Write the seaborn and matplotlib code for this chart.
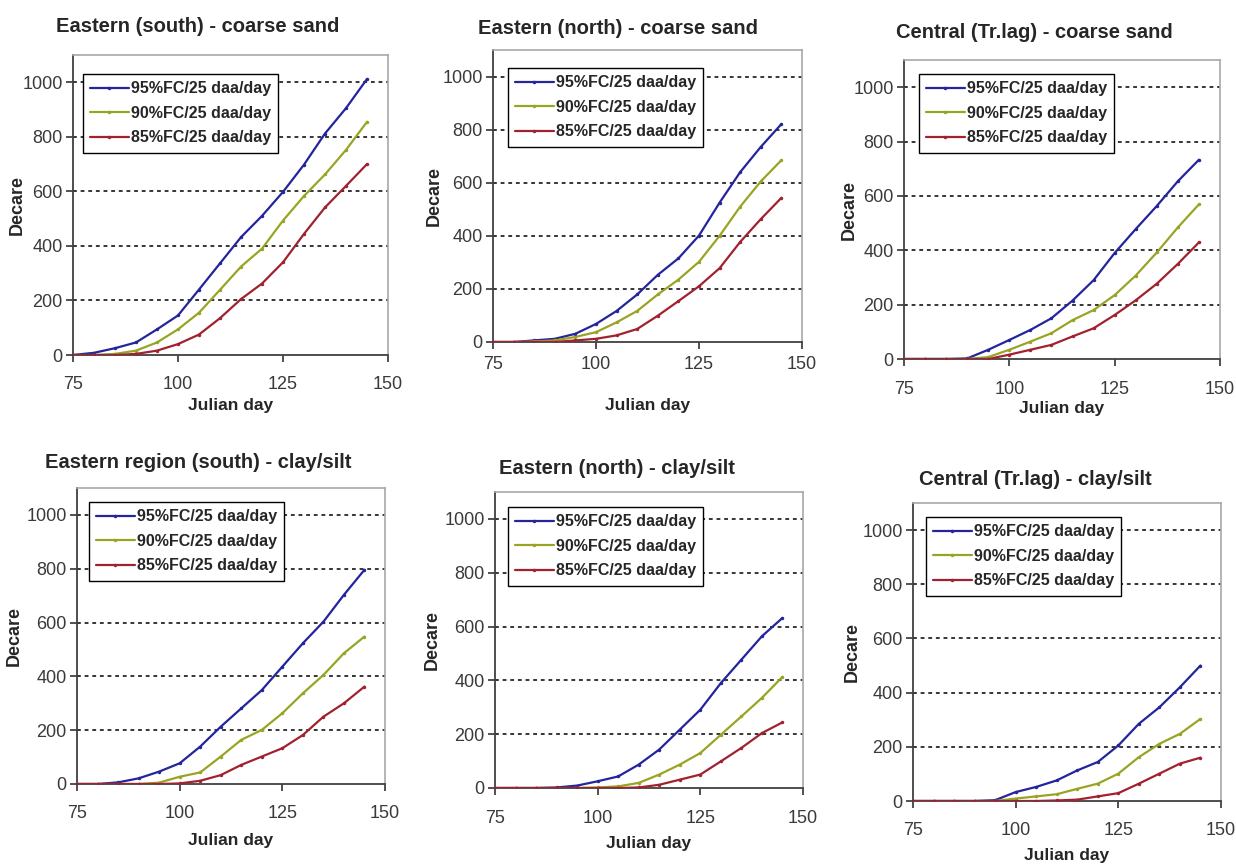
import numpy as np
import pandas as pd
import matplotlib
matplotlib.use("Agg")
import matplotlib.pyplot as plt
import seaborn as sns

# --------------------------
# DATA (every 5 Julian days)
# --------------------------
days = [75, 80, 85, 90, 95, 100, 105, 110, 115, 120, 125, 130, 135, 140, 145]
series_names = ["95%FC/25 daa/day", "90%FC/25 daa/day", "85%FC/25 daa/day"]

titles = [
    "Eastern (south) - coarse sand",
    "Eastern (north) - coarse sand",
    "Central (Tr.lag) - coarse sand",
    "Eastern region (south) - clay/silt",
    "Eastern (north) - clay/silt",
    "Central (Tr.lag) - clay/silt",
]

# Eastern (south) - coarse sand
es_sand_95 = [0, 8, 25, 46, 94, 145, 240, 336, 432, 510, 598, 698, 812, 905, 1012]
es_sand_90 = [0, 0, 4, 16, 46, 94, 155, 239, 324, 390, 493, 583, 662, 752, 855]
es_sand_85 = [0, 0, 0, 4, 16, 40, 75, 135, 205, 262, 340, 444, 541, 620, 700]

# Eastern (north) - coarse sand
en_sand_95 = [0, 0, 6, 12, 31, 68, 117, 179, 253, 315, 401, 525, 640, 735, 821]
en_sand_90 = [0, 0, 2, 6, 19, 37, 74, 117, 179, 235, 302, 400, 510, 605, 685]
en_sand_85 = [0, 0, 0, 0, 6, 12, 25, 49, 99, 154, 210, 278, 377, 463, 543]

# Central (Tr.lag) - coarse sand
ce_sand_95 = [0, 0, 0, 2, 34, 70, 107, 150, 215, 290, 390, 478, 563, 654, 733]
ce_sand_90 = [0, 0, 0, 0, 7, 34, 64, 95, 143, 180, 235, 307, 392, 484, 569]
ce_sand_85 = [0, 0, 0, 0, 0, 16, 34, 52, 83, 113, 162, 216, 277, 350, 429]

# Eastern region (south) - clay/silt
es_clay_95 = [0, 0, 6, 21, 46, 77, 139, 213, 281, 349, 436, 523, 603, 703, 796]
es_clay_90 = [0, 0, 0, 0, 5, 27, 43, 102, 164, 201, 263, 337, 405, 486, 548]
es_clay_85 = [0, 0, 0, 0, 0, 2, 12, 33, 71, 102, 133, 182, 250, 300, 362]

# Eastern (north) - clay/silt
en_clay_95 = [0, 0, 0, 2, 9, 25, 43, 87, 143, 217, 291, 390, 477, 564, 632]
en_clay_90 = [0, 0, 0, 0, 0, 2, 6, 19, 50, 87, 130, 198, 266, 335, 413]
en_clay_85 = [0, 0, 0, 0, 0, 0, 0, 2, 12, 31, 50, 99, 149, 204, 244]

# Central (Tr.lag) - clay/silt
ce_clay_95 = [0, 0, 0, 0, 3, 33, 52, 76, 113, 144, 205, 285, 346, 420, 500]
ce_clay_90 = [0, 0, 0, 0, 0, 9, 17, 25, 45, 64, 101, 162, 211, 248, 303]
ce_clay_85 = [0, 0, 0, 0, 0, 0, 0, 2, 5, 17, 29, 64, 101, 138, 160]

panels = [
    (es_sand_95, es_sand_90, es_sand_85),
    (en_sand_95, en_sand_90, en_sand_85),
    (ce_sand_95, ce_sand_90, ce_sand_85),
    (es_clay_95, es_clay_90, es_clay_85),
    (en_clay_95, en_clay_90, en_clay_85),
    (ce_clay_95, ce_clay_90, ce_clay_85),
]

colors = {
    "95%FC/25 daa/day": "#24249C",
    "90%FC/25 daa/day": "#9AA424",
    "85%FC/25 daa/day": "#A1222F",
}

# --------------------------
# LAYOUT (pixels on a 1236x866 canvas)
# --------------------------
W, H = 1236, 866
boxes = [            # left, top, right, bottom of each plot area
    (73, 55, 388, 355),
    (493, 50, 802, 342),
    (904, 60, 1220, 359),
    (77, 488, 385, 784),
    (495, 492, 803, 788),
    (913, 503, 1221, 801),
]
title_pos = [(198, 27), (618, 28), (1034, 33), (198, 463), (617, 468), (1035, 480)]
legend_pos = [(83, 74), (508, 68), (919, 74), (89, 502), (508, 507), (926, 517)]
xlabel_top = [398, 398, 401, 833, 836, 848]   # top edge of "Julian day"
ylabel_right = [26, 443, 858, 23, 441, 861]   # right edge of rotated "Decare"
xtick_pad = [10, 5, 10.5, 10, 10.5, 10]

# --------------------------
# PLOTTING
# --------------------------
sns.set_style("ticks")
plt.rcParams["font.family"] = ["Liberation Sans", "DejaVu Sans"]

fig = plt.figure(figsize=(W / 100, H / 100), dpi=100)
fig.patch.set_facecolor("white")

for i, ((l, t, r, b), title, vals) in enumerate(zip(boxes, titles, panels)):
    w, h = r - l, b - t
    ax = fig.add_axes([l / W, 1 - b / H, w / W, h / H])

    df = pd.DataFrame({
        "day": days * 3,
        "decare": list(vals[0]) + list(vals[1]) + list(vals[2]),
        "series": [s for s in series_names for _ in days],
    })
    sns.lineplot(
        data=df, x="day", y="decare", hue="series", hue_order=series_names,
        palette=colors, marker=".", markersize=5, markeredgewidth=0,
        linewidth=1.6, ax=ax, zorder=3,
    )

    ax.set_xlim(75, 150)
    ax.set_ylim(0, 1100)
    ax.set_xticks([75, 100, 125, 150])
    ax.set_yticks([0, 200, 400, 600, 800, 1000])
    for yv in [200, 400, 600, 800, 1000]:
        ax.axhline(yv, color="black", linestyle=(0, (2.5, 2.5)), linewidth=1.1, zorder=1)

    ax.tick_params(axis="both", direction="out", length=5, width=1.2,
                   labelsize=13, labelcolor="#3A3A3A", color="#333333")
    ax.tick_params(axis="x", pad=xtick_pad[i])
    ax.tick_params(axis="y", pad=2.5)

    ax.set_xlabel("Julian day", fontsize=12.5, fontweight="bold")
    ax.set_ylabel("Decare", fontsize=13, fontweight="bold")
    ax.xaxis.set_label_coords(0.5, -(xlabel_top[i] - b) / h)
    ax.yaxis.set_label_coords(-(l - ylabel_right[i]) / w, 0.5)

    tx, ty = title_pos[i]
    fig.text(tx / W, 1 - ty / H, title, ha="center", va="center",
             fontsize=14.5, fontweight="bold")

    for side in ["top", "right"]:
        ax.spines[side].set_color("#A8A8A8")
        ax.spines[side].set_linewidth(1.2)
    for side in ["left", "bottom"]:
        ax.spines[side].set_color("#404040")
        ax.spines[side].set_linewidth(1.3)

    lx, ly = legend_pos[i]
    handles, labels = ax.get_legend_handles_labels()
    leg = ax.legend(
        handles, labels, loc="upper left",
        bbox_to_anchor=((lx - l) / w, 1 - (ly - t) / h), borderaxespad=0,
        frameon=True, fancybox=False, framealpha=1, edgecolor="black",
        prop={"weight": "bold", "size": 11.5},
        handlelength=2.4, handletextpad=0.15, labelspacing=0.6, borderpad=0.45,
    )
    leg.get_frame().set_linewidth(1.0)
    leg.set_zorder(5)

fig.savefig("out.png", dpi=100, facecolor="white")
